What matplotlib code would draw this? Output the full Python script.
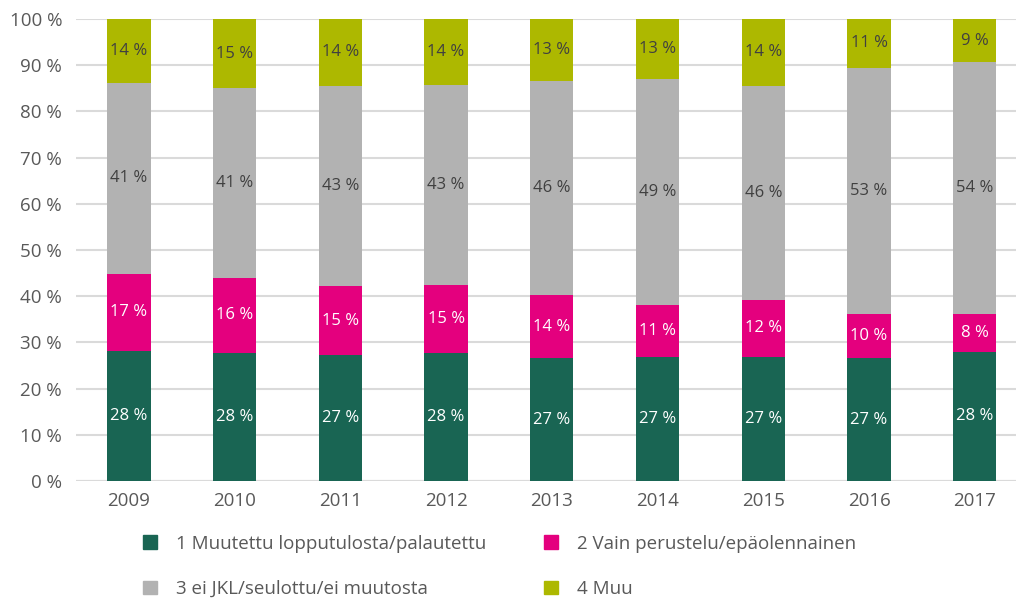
import matplotlib.pyplot as plt
from matplotlib.patches import Patch

years = ["2009", "2010", "2011", "2012", "2013", "2014", "2015", "2016", "2017"]
series_names = [
    "1 Muutettu lopputulosta/palautettu",
    "2 Vain perustelu/epäolennainen",
    "3 ei JKL/seulottu/ei muutosta",
    "4 Muu",
]
muutettu = [28.2, 27.8, 27.2, 27.6, 26.6, 26.9, 26.9, 26.6, 28.0]
perustelu = [16.6, 16.2, 15.0, 14.8, 13.6, 11.3, 12.3, 9.6, 8.2]
ei_jkl = [41.4, 41.0, 43.4, 43.4, 46.4, 48.8, 46.4, 53.2, 54.4]
muu = [13.8, 15.0, 14.4, 14.2, 13.4, 13.0, 14.4, 10.6, 9.4]

colors = ["#196553", "#e4007e", "#b2b2b2", "#adb800"]
label_colors = ["white", "white", "#404040", "#404040"]
text_color = "#595959"

plt.rcParams["font.family"] = ["Open Sans", "DejaVu Sans"]

fig = plt.figure(figsize=(10.16, 6.0), dpi=100)
ax = fig.add_axes([76 / 1016, 119 / 600, 1 - 76 / 1016, 462 / 600])

x = list(range(len(years)))
bottom = [0.0] * len(years)
for vals, col, lcol in zip([muutettu, perustelu, ei_jkl, muu], colors, label_colors):
    bars = ax.bar(x, vals, width=0.41, bottom=bottom, color=col, zorder=3)
    for b, v, b0 in zip(bars, vals, bottom):
        ax.text(b.get_x() + b.get_width() / 2, b0 + v / 2, f"{v:.0f} %",
                ha="center", va="center", color=lcol, fontsize=12, zorder=4)
    bottom = [a + c for a, c in zip(bottom, vals)]

ax.set_xlim(-0.5, 8.39)
ax.set_ylim(0, 100)
ax.set_yticks(range(0, 101, 10))
ax.set_yticklabels([f"{t} %" for t in range(0, 101, 10)])
ax.set_xticks(x)
ax.set_xticklabels(years)
ax.yaxis.grid(True, color="#dadada", linewidth=1.5, zorder=0)
ax.tick_params(axis="both", length=0, labelsize=13.5, colors=text_color)
ax.tick_params(axis="y", pad=10)
ax.tick_params(axis="x", pad=8)
for s in ax.spines.values():
    s.set_visible(False)
ax.axhline(0, color="#dadada", linewidth=1.5, zorder=2)

handles = [Patch(color=c) for c in colors]
order = [0, 2, 1, 3]
fig.legend([handles[i] for i in order], [series_names[i] for i in order],
           ncol=2, loc="upper left", bbox_to_anchor=(126 / 1016, 1 - 518 / 600),
           frameon=False, fontsize=13.5, labelcolor=text_color,
           handlelength=0.75, handleheight=0.75, handletextpad=1.0,
           columnspacing=3.1, labelspacing=1.45)

fig.savefig("out.png", dpi=100)
